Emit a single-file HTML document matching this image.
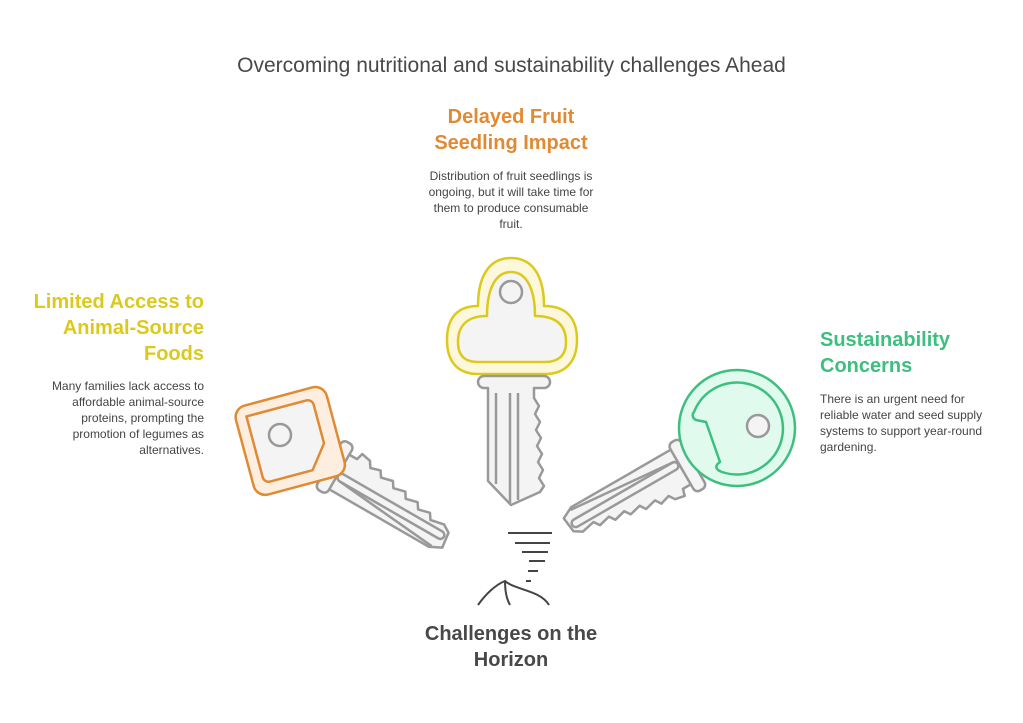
<!DOCTYPE html>
<html><head><meta charset="utf-8"><style>
body{margin:0;background:#fff;}
.w{position:relative;width:1023px;height:723px;overflow:hidden;font-family:"Liberation Sans",sans-serif;}
.t{position:absolute;}
</style></head><body><div class="w">
<div class="t" style="left:0;width:1023px;top:54px;text-align:center;font-size:21px;color:#484848;">Overcoming nutritional and sustainability challenges Ahead</div>
<div class="t" style="left:400px;width:222px;top:104px;text-align:center;font-size:20px;font-weight:bold;color:#e08a34;line-height:26px;">Delayed Fruit<br>Seedling Impact</div>
<div class="t" style="left:416px;width:190px;top:168px;text-align:center;font-size:12px;color:#444;line-height:16px;">Distribution of fruit seedlings is<br>ongoing, but it will take time for<br>them to produce consumable<br>fruit.</div>
<div class="t" style="left:10px;width:194px;top:289px;text-align:right;font-size:20px;font-weight:bold;color:#dcc91c;line-height:26px;">Limited Access to<br>Animal-Source<br>Foods</div>
<div class="t" style="left:20px;width:184px;top:378px;text-align:right;font-size:12px;color:#444;line-height:16px;">Many families lack access to<br>affordable animal-source<br>proteins, prompting the<br>promotion of legumes as<br>alternatives.</div>
<div class="t" style="left:820px;width:200px;top:327px;font-size:20px;font-weight:bold;color:#3dbf80;line-height:26px;">Sustainability<br>Concerns</div>
<div class="t" style="left:820px;width:200px;top:391px;font-size:12px;color:#444;line-height:16px;">There is an urgent need for<br>reliable water and seed supply<br>systems to support year-round<br>gardening.</div>
<div class="t" style="left:400px;width:222px;top:621px;text-align:center;font-size:20px;font-weight:bold;color:#484848;line-height:26px;">Challenges on the<br>Horizon</div>
<svg width="1023" height="723" style="position:absolute;left:0;top:0">
<defs>
<g id="blade" stroke="#999" stroke-width="2.5" fill="#f4f4f4" stroke-linejoin="round">
<path d="M12,-16 L22,-16 L24,-23 L34,-21 L38,-15 L48,-18 L52,-12 L64,-15 L68,-9 L80,-12 L84,-6 L96,-9 L100,-3 L112,-6 L116,0 L130,-3 L138,2 L140,18 L128,24 L12,24 Z"/>
<rect x="0" y="-26" width="13" height="56" rx="5"/>
<path d="M18,4 L132,4 a4,4 0 0 1 0,8 L18,12 a4,4 0 0 1 0,-8 Z" fill="none"/>
<path d="M18,12 L130,22" fill="none"/>
</g>
</defs>
<!-- middle key -->
<g stroke-linejoin="round">
<path d="M478,306 C478,275 490,258 511,258 C532,258 544,275 544,306 C572,306 577,325 577,340 C577,362 565,374 545,374 L478,374 C458,374 447,362 447,340 C447,325 452,306 478,306 Z" fill="#fdf8dc" stroke="#dcc91c" stroke-width="2.5"/>
<path d="M487,316 C487,288 496,272 511,272 C526,272 535,288 535,316 C556,316 566,325 566,342 C566,356 558,362 545,362 L478,362 C465,362 458,356 458,342 C458,325 468,316 487,316 Z" fill="#f4f4f4" stroke="#dcc91c" stroke-width="2.5"/>
<circle cx="511" cy="292" r="11" fill="#f4f4f4" stroke="#999" stroke-width="2.5"/>
<path d="M484,376 h60 a6,6 0 0 1 0,12 h-10 v10 l5,8 -4,8 5,8 -4,8 5,8 -4,8 5,8 -4,8 5,8 -4,8 5,8 -4,6 L511,505 L488,481 V388 h-4 a6,6 0 0 1 0,-12 z" fill="#f4f4f4" stroke="#999" stroke-width="2.5"/>
<path d="M496,393 V484 M510,393 V503 M518,393 V500" stroke="#999" stroke-width="2.5" fill="none"/>
</g>
<!-- left key -->
<g transform="translate(330,462) rotate(30)"><use href="#blade"/></g>
<g transform="translate(290,440) rotate(-15)">
<rect x="-47" y="-45" width="94" height="92" rx="12" fill="#fdeee0" stroke="#e08a34" stroke-width="2.5"/>
<path d="M-36,-34 H26 a6,6 0 0 1 6,6 V12 L14,35 H-30 a6,6 0 0 1 -6,-6 Z" fill="#f4f4f4" stroke="#e08a34" stroke-width="2.5" stroke-linejoin="round"/>
</g>
<circle cx="280" cy="435" r="11" fill="#f4f4f4" stroke="#999" stroke-width="2.5"/>
<!-- right key -->
<g transform="translate(694,464) rotate(150)"><use href="#blade"/></g>
<circle cx="737" cy="428" r="58" fill="#e0fbee" stroke="#3dbf80" stroke-width="2.5"/>
<path d="M694,412 A46,46 0 1 1 722,472 C716,470 714,466 720,462 L706,422 L696,420 C692,418 692,414 694,412 Z" fill="#e0fbee" stroke="#3dbf80" stroke-width="2.5" stroke-linejoin="round"/>
<circle cx="758" cy="426" r="11" fill="#f4f4f4" stroke="#999" stroke-width="2.5"/>
<!-- horizon icon -->
<g stroke="#444" stroke-width="2" fill="none">
<path d="M508,533 H552 M515,543 H550 M522,552 H548 M529,561 H545 M528,571 H538 M526,581 H531"/>
<path d="M478,605 C485,595 495,585 505,581 C515,590 540,590 549,605 M505,581 C505,590 506,598 510,605"/>
</g>
</svg>
</div></body></html>
